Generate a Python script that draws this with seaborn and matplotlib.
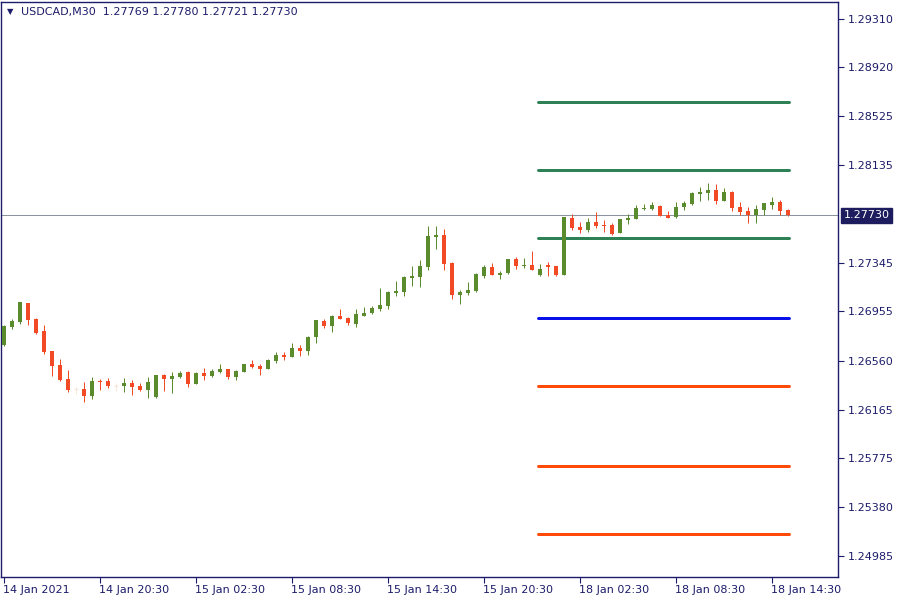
import matplotlib
matplotlib.use("Agg")
import matplotlib.pyplot as plt
import matplotlib.transforms as mtransforms
import seaborn as sns
import numpy as np
import pandas as pd

# ---------------- data ----------------
symbol = "USDCAD,M30"
header_ohlc = ["1.27769", "1.27780", "1.27721", "1.27730"]
current_price = 1.27730

opens = [1.26685, 1.26830, 1.26870, 1.27023, 1.26894, 1.26797, 1.26637, 1.26524, 1.26411, 1.26331,
         1.26331, 1.26275, 1.26395, 1.26395, 1.26355, 1.26355, 1.26379, 1.26355, 1.26323, 1.26267,
         1.26444, 1.26411, 1.26428, 1.26468, 1.26371, 1.26460, 1.26436, 1.26468, 1.26492, 1.26428,
         1.26468, 1.26532, 1.26516, 1.26492, 1.26556, 1.26604, 1.26588, 1.26661, 1.26637, 1.26749,
         1.26878, 1.26838, 1.26918, 1.26902, 1.26854, 1.26918, 1.26942, 1.26974, 1.26998, 1.27103,
         1.27111, 1.27223, 1.27232, 1.27312, 1.27553, 1.27569, 1.27344, 1.27087, 1.27103, 1.27119,
         1.27240, 1.27312, 1.27248, 1.27264, 1.27376, 1.27320, 1.27328, 1.27248, 1.27328, 1.27320,
         1.27248, 1.27706, 1.27634, 1.27609, 1.27674, 1.27650, 1.27650, 1.27585, 1.27690, 1.27698,
         1.27778, 1.27778, 1.27802, 1.27730, 1.27714, 1.27794, 1.27818, 1.27899, 1.27907, 1.27931,
         1.27843, 1.27915, 1.27794, 1.27762, 1.27730, 1.27770, 1.27810, 1.27835, 1.27769]
highs = [1.26846, 1.26894, 1.27031, 1.27023, 1.26902, 1.26846, 1.26637, 1.26572, 1.26484, 1.26347,
         1.26387, 1.26428, 1.26411, 1.26420, 1.26379, 1.26420, 1.26403, 1.26379, 1.26428, 1.26444,
         1.26452, 1.26468, 1.26476, 1.26476, 1.26468, 1.26500, 1.26492, 1.26532, 1.26492, 1.26484,
         1.26532, 1.26564, 1.26532, 1.26572, 1.26629, 1.26629, 1.26701, 1.26685, 1.26757, 1.26886,
         1.26894, 1.26926, 1.26974, 1.26910, 1.26974, 1.26990, 1.26998, 1.27143, 1.27119, 1.27199,
         1.27240, 1.27320, 1.27368, 1.27642, 1.27642, 1.27617, 1.27352, 1.27127, 1.27191, 1.27264,
         1.27328, 1.27344, 1.27280, 1.27376, 1.27392, 1.27384, 1.27441, 1.27336, 1.27352, 1.27320,
         1.27714, 1.27738, 1.27674, 1.27706, 1.27754, 1.27690, 1.27666, 1.27698, 1.27738, 1.27810,
         1.27818, 1.27835, 1.27810, 1.27762, 1.27835, 1.27843, 1.27915, 1.27955, 1.27987, 1.27979,
         1.27947, 1.27923, 1.27835, 1.27794, 1.27810, 1.27826, 1.27875, 1.27851, 1.27780]
lows = [1.26677, 1.26813, 1.26854, 1.26846, 1.26773, 1.26612, 1.26436, 1.26395, 1.26307, 1.26291,
        1.26227, 1.26251, 1.26323, 1.26339, 1.26315, 1.26307, 1.26283, 1.26315, 1.26259, 1.26259,
        1.26315, 1.26299, 1.26420, 1.26347, 1.26371, 1.26403, 1.26428, 1.26460, 1.26411, 1.26403,
        1.26468, 1.26500, 1.26444, 1.26492, 1.26540, 1.26564, 1.26588, 1.26596, 1.26604, 1.26701,
        1.26822, 1.26789, 1.26894, 1.26846, 1.26830, 1.26918, 1.26934, 1.26958, 1.26974, 1.27079,
        1.27079, 1.27159, 1.27151, 1.27288, 1.27457, 1.27288, 1.27055, 1.27014, 1.27087, 1.27111,
        1.27223, 1.27248, 1.27215, 1.27256, 1.27296, 1.27304, 1.27288, 1.27240, 1.27240, 1.27240,
        1.27248, 1.27609, 1.27585, 1.27593, 1.27625, 1.27593, 1.27569, 1.27585, 1.27658, 1.27698,
        1.27770, 1.27770, 1.27722, 1.27706, 1.27706, 1.27770, 1.27810, 1.27843, 1.27851, 1.27818,
        1.27843, 1.27762, 1.27730, 1.27666, 1.27666, 1.27730, 1.27778, 1.27730, 1.27721]
closes = [1.26838, 1.26878, 1.27031, 1.26886, 1.26781, 1.26629, 1.26516, 1.26403, 1.26323, 1.26331,
          1.26275, 1.26395, 1.26387, 1.26355, 1.26355, 1.26379, 1.26347, 1.26323, 1.26387, 1.26444,
          1.26411, 1.26436, 1.26460, 1.26371, 1.26460, 1.26436, 1.26476, 1.26492, 1.26428, 1.26476,
          1.26532, 1.26508, 1.26492, 1.26564, 1.26604, 1.26588, 1.26661, 1.26637, 1.26749, 1.26886,
          1.26838, 1.26918, 1.26894, 1.26862, 1.26934, 1.26942, 1.26982, 1.27006, 1.27111, 1.27119,
          1.27232, 1.27240, 1.27320, 1.27561, 1.27569, 1.27336, 1.27087, 1.27111, 1.27127, 1.27256,
          1.27312, 1.27248, 1.27264, 1.27376, 1.27320, 1.27328, 1.27288, 1.27296, 1.27312, 1.27248,
          1.27714, 1.27625, 1.27609, 1.27674, 1.27642, 1.27642, 1.27577, 1.27698, 1.27706, 1.27786,
          1.27786, 1.27810, 1.27722, 1.27706, 1.27794, 1.27826, 1.27907, 1.27915, 1.27931, 1.27843,
          1.27915, 1.27786, 1.27754, 1.27730, 1.27778, 1.27826, 1.27835, 1.27762, 1.27730]

time_tick_candles = [0, 12, 24, 36, 48, 60, 72, 84, 96]
time_tick_labels = ["14 Jan 2021", "14 Jan 20:30", "15 Jan 02:30", "15 Jan 08:30",
                    "15 Jan 14:30", "15 Jan 20:30", "18 Jan 02:30", "18 Jan 08:30",
                    "18 Jan 14:30"]
price_ticks = [1.29310, 1.28920, 1.28525, 1.28135, 1.27345, 1.26955,
               1.26560, 1.26165, 1.25775, 1.25380, 1.24985]

pivot_names = ["R3", "R2", "R1", "P", "S1", "S2", "S3"]
pivot_values = [1.28639, 1.28092, 1.27545, 1.26902, 1.26355, 1.25712, 1.25165]
pivot_first_candle = 67   # first candle of 18 Jan session
pivot_last_candle = 98

# ---------------- style ----------------
NAVY = "#1c1c6b"
GREEN = "#5a8c2e"
RED = "#f24a24"
DOJI = "#f6e7d8"
pivot_palette = {"R3": "#2e8055", "R2": "#2e8055", "R1": "#2e8055",
                 "P": "#0a10e8", "S1": "#ff4a0a", "S2": "#ff4a0a", "S3": "#ff4a0a"}

sns.set_theme(style="white")
plt.rcParams["font.family"] = ["DejaVu Sans"]

W, H = 900, 600
fig = plt.figure(figsize=(9, 6), dpi=100)
left_px, right_px, top_px, bottom_px = 1, 838, 2, 577
ax = fig.add_axes([left_px / W, 1 - bottom_px / H,
                   (right_px - left_px) / W, (bottom_px - top_px) / H])
ax.set_facecolor("white")

df = pd.DataFrame({"open": opens, "high": highs, "low": lows, "close": closes})
df["idx"] = np.arange(len(df))
df["color"] = np.where(df.close > df.open, GREEN, np.where(df.close < df.open, RED, DOJI))

px = 0.72  # one pixel in points
body_w = 0.62

# wicks
ax.vlines(df.idx, df.low, df.high, colors=df.color, linewidth=1.0 * px, zorder=3)
# bodies
nd = df[df.close != df.open]
ax.bar(nd.idx, (nd.close - nd.open).abs().clip(lower=0.00008),
       bottom=np.minimum(nd.open, nd.close), width=body_w, color=nd.color,
       linewidth=0, zorder=4)
dj = df[df.close == df.open]
ax.hlines(dj.close, dj.idx - body_w / 2, dj.idx + body_w / 2, colors=DOJI,
          linewidth=1.4 * px, zorder=4)

# pivot lines via seaborn
pv = pd.DataFrame({
    "level": np.repeat(pivot_names, 2),
    "x": [pivot_first_candle - 0.25, pivot_last_candle + 0.1] * len(pivot_names),
    "price": np.repeat(pivot_values, 2),
})
sns.lineplot(data=pv, x="x", y="price", hue="level", palette=pivot_palette,
             estimator=None, linewidth=3 * px, legend=False, ax=ax, zorder=2)

# current price line
ax.axhline(current_price, color="#8a949e", linewidth=1.0 * px, zorder=1)

# axes limits
ax.set_xlim(-0.375, 104.25)
ax.set_ylim(1.24820, 1.29443)

# y axis on the right
ax.yaxis.tick_right()
ax.set_yticks(price_ticks)
ax.set_yticklabels([f"{v:.5f}" for v in price_ticks])
ax.tick_params(axis="y", which="both", right=True, left=False, labelright=True,
               labelleft=False, direction="out", length=4, width=0.8,
               colors=NAVY, labelsize=8, pad=3)

ax.set_xticks(time_tick_candles)
ax.set_xticklabels(time_tick_labels, ha="left")
ax.tick_params(axis="x", which="both", bottom=True, top=False, direction="out",
               length=4, width=0.8, colors=NAVY, labelsize=8, pad=2)
for lbl in ax.get_xticklabels():
    lbl.set_horizontalalignment("left")
    lbl.set_transform(lbl.get_transform() + mtransforms.ScaledTranslation(-1 / 100, 0, fig.dpi_scale_trans))

ax.set_xlabel("")
ax.set_ylabel("")
ax.grid(False)
for sp in ax.spines.values():
    sp.set_visible(True)
    sp.set_color(NAVY)
    sp.set_linewidth(1.0)

# current price label box
ax.annotate(f"{current_price:.5f}", xy=(1.0, current_price),
            xycoords=("axes fraction", "data"), xytext=(4, 0),
            textcoords="offset points", ha="left", va="center",
            color="white", fontsize=8,
            bbox=dict(boxstyle="square,pad=0.22", facecolor="#1c1c5e",
                      edgecolor="#1c1c5e"), annotation_clip=False, zorder=10)

# header
fig.text(7 / W, 1 - 12 / H, "\u25BC", color=NAVY, fontsize=6, va="center", ha="left")
fig.text(21 / W, 1 - 12 / H,
         f"{symbol}  " + " ".join(header_ohlc),
         color=NAVY, fontsize=8, va="center", ha="left")

fig.savefig("out.png", dpi=100)
